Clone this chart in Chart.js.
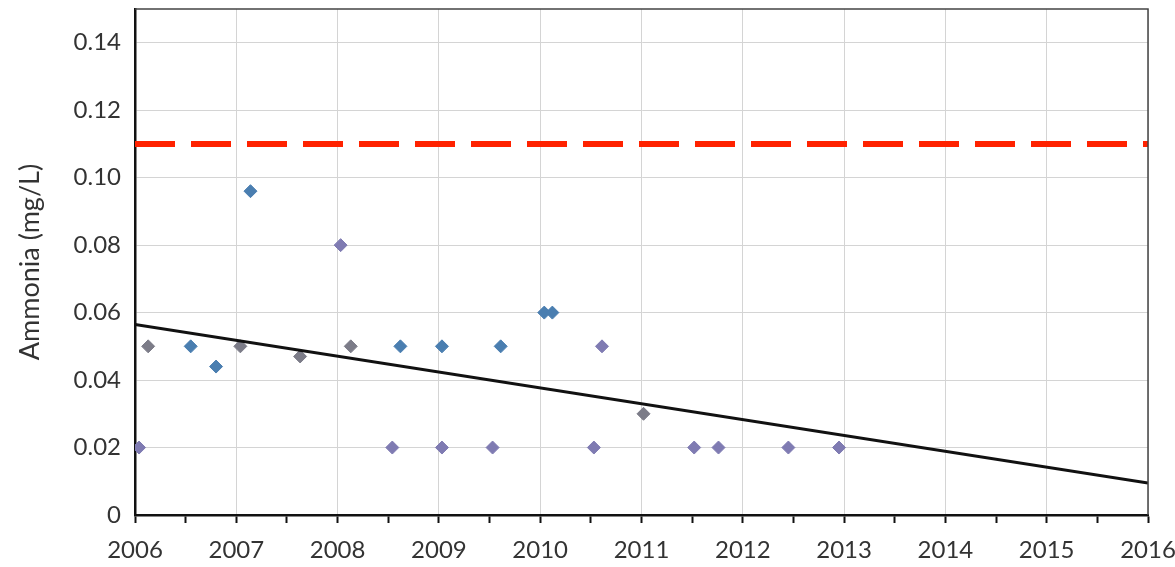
<!DOCTYPE html>
<html>
<head>
<meta charset="utf-8">
<script src="https://cdn.jsdelivr.net/npm/chart.js@4"></script>
<style>
  html, body { margin: 0; padding: 0; background: #fff; }
  #wrap { width: 1175px; height: 567px; }
</style>
</head>
<body>
<div id="wrap"><canvas id="myChart" width="1175" height="567"></canvas></div>
<script>
// sample points per marker colour (decimal year, mg/L)
const blueX = [2006.55, 2006.80, 2007.14, 2008.62, 2009.03, 2009.61, 2010.04, 2010.12];
const blueY = [0.05, 0.044, 0.096, 0.05, 0.05, 0.05, 0.06, 0.06];
const grayX = [2006.13, 2007.04, 2007.63, 2008.13, 2011.02];
const grayY = [0.05, 0.05, 0.047, 0.05, 0.03];
const purpleX = [2006.04, 2008.03, 2008.54, 2009.03, 2009.53, 2010.53, 2010.61, 2011.52, 2011.76, 2012.45, 2012.95];
const purpleY = [0.02, 0.08, 0.02, 0.02, 0.02, 0.02, 0.05, 0.02, 0.02, 0.02, 0.02];

// trend line end points and guideline value
const trendX = [2006, 2016];
const trendY = [0.0565, 0.0095];
const limitX = [2006, 2016];
const limitY = [0.11, 0.11];

const toPts = (xs, ys) => xs.map((x, i) => ({ x: x, y: ys[i] }));

// frame round the plot (top + right thin, left + bottom heavy)
const framePlugin = {
  id: 'frame',
  afterDraw(chart) {
    const a = chart.chartArea, c = chart.ctx;
    c.save();
    c.strokeStyle = '#444';
    c.lineWidth = 1.5;
    c.beginPath();
    c.moveTo(a.left, a.top);
    c.lineTo(a.right, a.top);
    c.lineTo(a.right, a.bottom);
    c.stroke();
    c.restore();
  }
};

const font = 'Lato, "DejaVu Sans", sans-serif';

const config = {
  type: 'scatter',
  data: {
    datasets: [
      {
        label: 'limit',
        type: 'line',
        data: toPts(limitX, limitY),
        borderColor: '#ff2200',
        borderWidth: 6,
        borderDash: [40, 16],
        pointRadius: 0,
        order: 1
      },
      {
        label: 'trend',
        type: 'line',
        data: toPts(trendX, trendY),
        borderColor: '#111',
        borderWidth: 3,
        pointRadius: 0,
        order: 0
      },
      {
        label: 'blue',
        data: toPts(blueX, blueY),
        pointStyle: 'rectRot',
        pointRadius: 6.5,
        backgroundColor: '#4a7eb0',
        borderColor: '#4a7eb0',
        order: 2
      },
      {
        label: 'gray',
        data: toPts(grayX, grayY),
        pointStyle: 'rectRot',
        pointRadius: 6.5,
        backgroundColor: '#7c7c88',
        borderColor: '#7c7c88',
        order: 2
      },
      {
        label: 'purple',
        data: toPts(purpleX, purpleY),
        pointStyle: 'rectRot',
        pointRadius: 6.5,
        backgroundColor: '#7f7bb2',
        borderColor: '#7f7bb2',
        order: 2
      }
    ]
  },
  options: {
    responsive: false,
    animation: false,
    layout: { padding: { top: 9, right: 27, left: 0, bottom: 0 } },
    plugins: {
      legend: { display: false },
      tooltip: { enabled: false }
    },
    scales: {
      x: {
        type: 'linear',
        min: 2006,
        max: 2016,
        ticks: {
          stepSize: 0.5,
          autoSkip: false,
          maxRotation: 0,
          padding: 13,
          color: '#333',
          font: { family: font, size: 24 },
          callback: v => Number.isInteger(v) ? String(v) : ''
        },
        grid: {
          color: ctx => (ctx.tick && Number.isInteger(ctx.tick.value)) ? '#d4d4d4' : 'rgba(0,0,0,0)',
          tickColor: '#111',
          tickLength: 8,
          tickWidth: 2
        },
        border: { color: '#111', width: 2.5 },
        afterFit: s => { s.height = 52; s.paddingLeft = 0; s.paddingRight = 0; }
      },
      y: {
        min: 0,
        max: 0.15,
        afterBuildTicks: s => { s.ticks = s.ticks.filter(t => t.value <= 0.141); },
        ticks: {
          stepSize: 0.02,
          padding: 14,
          color: '#333',
          font: { family: font, size: 24 },
          callback: v => v === 0 ? '0' : v.toFixed(2)
        },
        grid: { color: '#d4d4d4', drawTicks: false },
        border: { color: '#111', width: 2.5 },
        title: {
          display: true,
          text: 'Ammonia (mg/L)',
          color: '#333',
          font: { family: font, size: 27 },
          padding: { top: 14, bottom: 0 }
        },
        afterFit: s => { s.width = 135; s.paddingTop = 0; s.paddingBottom = 0; }
      }
    }
  },
  plugins: [framePlugin]
};

const myChart = new Chart(document.getElementById('myChart').getContext('2d'), config);
</script>
</body>
</html>
